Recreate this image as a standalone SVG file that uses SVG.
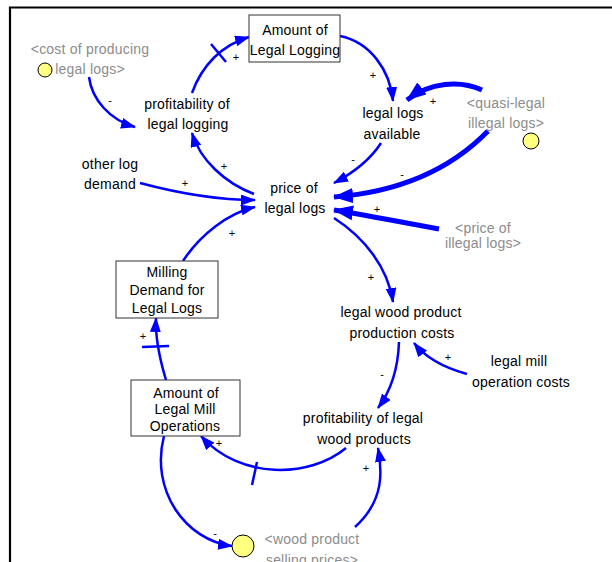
<svg xmlns="http://www.w3.org/2000/svg" width="612" height="562" viewBox="0 0 612 562">
<style>
text{font-family:"Liberation Sans","DejaVu Sans",sans-serif;font-size:14px;letter-spacing:0.2px;fill:#000;text-anchor:middle}
.sh{fill:#8c8c8c}
.pol{font-size:11px;letter-spacing:0}
.box{fill:#fff;stroke:#333;stroke-width:1}
.lnk{fill:none;stroke:#0000ff;stroke-width:2.5;marker-end:url(#ah)}
.thk{fill:none;stroke:#0000ff;stroke-width:5;marker-end:url(#ahb)}
.dly{fill:none;stroke:#0000ff;stroke-width:2.5}
.bulb{fill:#ffff80;stroke:#000;stroke-width:1}
</style>
<defs>
<marker id="ah" markerUnits="userSpaceOnUse" markerWidth="15" markerHeight="11" refX="14" refY="5.5" orient="auto"><path d="M0,0 L15,5.5 L0,11 z" fill="#0000ff"/></marker>
<marker id="ahb" markerUnits="userSpaceOnUse" markerWidth="20" markerHeight="15" refX="19" refY="7.5" orient="auto"><path d="M0,0 L20,7.5 L0,15 z" fill="#0000ff"/></marker>
</defs>
<rect width="612" height="562" fill="#fff"/>
<path d="M10,562 L10,7.5 L612,7.5" fill="none" stroke="#000" stroke-width="2.2"/>

<g id="connectors">
<path class="lnk" d="M89,77 C92,100 110,120 135,127"/>
<path class="lnk" d="M192,93 C202,65 222,45 249,37"/>
<path class="dly" d="M211,44 L226,62"/>
<path class="lnk" d="M340,36 C370,42 390,70 393,101"/>
<path class="thk" d="M482,90 C460,80 430,82 407,100"/>
<path class="lnk" d="M381,143 C370,160 355,172 334,183"/>
<path class="thk" d="M488,131 C450,170 400,192 334,197"/>
<path class="thk" d="M439,229 C400,222 360,214 334,210"/>
<path class="lnk" d="M334,218 C365,238 388,268 393,302"/>
<path class="lnk" d="M254,194 C225,183 200,160 192,133"/>
<path class="lnk" d="M140,183 C185,195 220,200 255,200"/>
<path class="lnk" d="M183,261 C200,235 228,213 255,207"/>
<path class="lnk" d="M166,380 C160,360 155,340 156,318"/>
<path class="dly" d="M142,347 L169,346"/>
<path class="lnk" d="M399,342 C398,370 390,392 378,408"/>
<path class="lnk" d="M467,374 C445,368 425,357 414,343"/>
<path class="lnk" d="M346,448 C310,478 240,480 201,436"/>
<path class="dly" d="M257,462 L252,485"/>
<path class="lnk" d="M164,436 C150,490 185,540 232,546"/>
<path class="lnk" d="M355,527 C385,500 382,470 378,448"/>
<text class="pol" x="110" y="104">-</text>
<text class="pol" x="236" y="61">+</text>
<text class="pol" x="373" y="79">+</text>
<text class="pol" x="433" y="105">+</text>
<text class="pol" x="353" y="163">-</text>
<text class="pol" x="402" y="178">-</text>
<text class="pol" x="377" y="213">+</text>
<text class="pol" x="371" y="281">+</text>
<text class="pol" x="224" y="170">+</text>
<text class="pol" x="185" y="187">+</text>
<text class="pol" x="232" y="237">+</text>
<text class="pol" x="143" y="340">+</text>
<text class="pol" x="382" y="378">-</text>
<text class="pol" x="448" y="361">+</text>
<text class="pol" x="219" y="447">+</text>
<text class="pol" x="215" y="537">-</text>
<text class="pol" x="366" y="472">+</text>
</g>

<g id="amount-legal-logging">
<rect class="box" x="249" y="15" width="91" height="47"/>
<text x="295" y="35">Amount of</text>
<text x="295" y="55">Legal Logging</text>
</g>
<g id="cost-producing-legal-logs">
<circle class="bulb" cx="45" cy="70" r="7"/>
<text class="sh" x="90" y="54">&lt;cost of producing</text>
<text class="sh" x="90" y="74">legal logs&gt;</text>
</g>
<g id="profitability-legal-logging">
<text x="187" y="109">profitability of</text>
<text x="188" y="129">legal logging</text>
</g>
<g id="other-log-demand">
<text x="110" y="169">other log</text>
<text x="110" y="189">demand</text>
</g>
<g id="price-legal-logs">
<text x="294" y="193">price of</text>
<text x="295" y="213">legal logs</text>
</g>
<g id="legal-logs-available">
<text x="393" y="118">legal logs</text>
<text x="392" y="139">available</text>
</g>
<g id="quasi-legal-illegal-logs">
<circle class="bulb" cx="531" cy="141" r="8"/>
<text class="sh" x="506" y="108">&lt;quasi-legal</text>
<text class="sh" x="506" y="128">illegal logs&gt;</text>
</g>
<g id="price-illegal-logs">
<text class="sh" x="483" y="233">&lt;price of</text>
<text class="sh" x="483" y="248">illegal logs&gt;</text>
</g>
<g id="milling-demand">
<rect class="box" x="116" y="261" width="102" height="57"/>
<text x="167" y="277">Milling</text>
<text x="167" y="295">Demand for</text>
<text x="167" y="313">Legal Logs</text>
</g>
<g id="amount-legal-mill-operations">
<rect class="box" x="131" y="380" width="109" height="56"/>
<text x="186" y="398">Amount of</text>
<text x="185" y="414">Legal Mill</text>
<text x="185" y="431">Operations</text>
</g>
<g id="legal-wood-product-production-costs">
<text x="401" y="317">legal wood product</text>
<text x="402" y="338">production costs</text>
</g>
<g id="legal-mill-operation-costs">
<text x="519" y="366">legal mill</text>
<text x="521" y="387">operation costs</text>
</g>
<g id="profitability-legal-wood-products">
<text x="363" y="423">profitability of legal</text>
<text x="364" y="444">wood products</text>
</g>
<g id="wood-product-selling-prices">
<circle class="bulb" cx="243" cy="546" r="11"/>
<text class="sh" x="312" y="544">&lt;wood product</text>
<text class="sh" x="312" y="565">selling prices&gt;</text>
</g>
</svg>
